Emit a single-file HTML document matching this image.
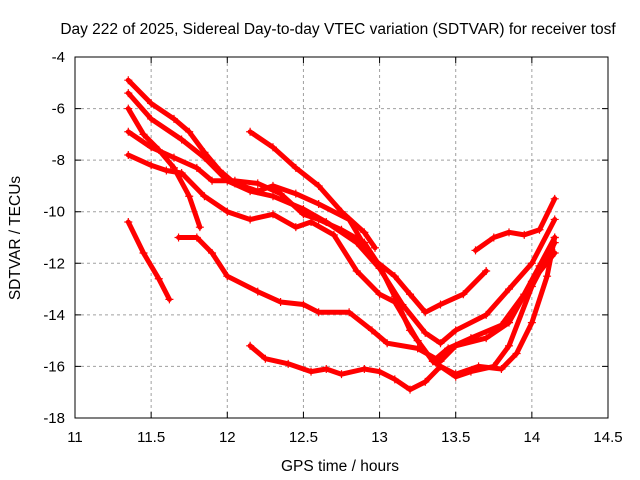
<!DOCTYPE html>
<html><head><meta charset="utf-8"><style>
body{margin:0;background:#fff}
svg{display:block;font-family:"Liberation Sans",sans-serif}
</style></head><body>
<svg id="chart" width="640" height="480">
<rect x="0" y="0" width="640" height="480" fill="#fff"/>
<text x="338" y="34" font-size="15.5" text-anchor="middle">Day 222 of 2025, Sidereal Day-to-day VTEC variation (SDTVAR) for receiver tosf</text>
<text x="340" y="471" font-size="15.5" text-anchor="middle">GPS time / hours</text>
<text x="20" y="238" font-size="15.5" text-anchor="middle" transform="rotate(-90 20 238)">SDTVAR / TECUs</text>
<g id="grid"></g><g id="ticks"></g><g id="series"></g>
<rect x="75" y="57" width="533" height="361" fill="none" stroke="#000"/>
</svg>
<script>
const xTicks=[11,11.5,12,12.5,13,13.5,14,14.5];
const xTickLabels=["11","11.5","12","12.5","13","13.5","14","14.5"];
const yTicks=[-4,-6,-8,-10,-12,-14,-16,-18];
const yTickLabels=["-4","-6","-8","-10","-12","-14","-16","-18"];
const s1=[[11.35,-4.9],[11.5,-5.8],[11.65,-6.4],[11.75,-6.9],[11.85,-7.7],[11.95,-8.4],[12.05,-8.9],[12.2,-9.2],[12.3,-9.0],[12.45,-9.3],[12.6,-9.7],[12.8,-10.3],[12.95,-11.8],[13.1,-12.5],[13.2,-13.2],[13.3,-13.9],[13.4,-13.6],[13.55,-13.2],[13.7,-12.3]];
const s2=[[11.35,-5.4],[11.5,-6.4],[11.7,-7.2],[11.85,-7.9],[12.0,-8.8],[12.15,-9.2],[12.3,-9.4],[12.5,-9.9],[12.65,-10.4],[12.85,-11.2],[13.0,-12.2],[13.15,-13.6],[13.3,-14.7],[13.4,-15.1],[13.5,-14.6],[13.7,-14.0],[13.85,-13.0],[14.0,-12.0],[14.15,-10.3]];
const s3=[[11.35,-6.0],[11.45,-7.0],[11.55,-7.6],[11.65,-8.3],[11.75,-9.4],[11.82,-10.6]];
const s4=[[11.35,-6.9],[11.5,-7.5],[11.65,-7.9],[11.8,-8.3],[11.9,-8.8],[12.05,-8.8],[12.2,-8.9],[12.35,-9.3],[12.5,-10.1],[12.6,-10.3],[12.75,-10.7],[12.9,-11.2],[13.0,-12.1],[13.1,-13.3],[13.2,-14.6],[13.35,-15.8],[13.45,-15.3],[13.6,-14.9],[13.8,-14.4],[13.95,-13.2],[14.05,-12.1],[14.15,-11.0]];
const s5=[[11.35,-7.8],[11.5,-8.2],[11.6,-8.4],[11.7,-8.5],[11.85,-9.4],[12.0,-10.0],[12.15,-10.3],[12.3,-10.1],[12.45,-10.6],[12.55,-10.4],[12.7,-10.9],[12.85,-12.3],[13.0,-13.2],[13.1,-13.5],[13.25,-15.0],[13.35,-15.8],[13.5,-16.4],[13.6,-16.2],[13.75,-16.0],[13.85,-15.2],[14.0,-12.9],[14.15,-11.2]];
const s6=[[11.35,-10.4],[11.45,-11.6],[11.55,-12.6],[11.62,-13.4]];
const s7=[[11.68,-11.0],[11.8,-11.0],[11.9,-11.6],[12.0,-12.5],[12.2,-13.1],[12.35,-13.5],[12.5,-13.6],[12.6,-13.9],[12.8,-13.9],[12.95,-14.6],[13.05,-15.1],[13.25,-15.3],[13.4,-15.8],[13.5,-15.2],[13.7,-14.9],[13.85,-14.3],[14.0,-12.7],[14.15,-11.6]];
const s8=[[12.15,-6.9],[12.3,-7.5],[12.45,-8.3],[12.6,-9.0],[12.75,-10.0],[12.9,-10.8],[12.97,-11.4]];
const s9=[[12.15,-15.2],[12.25,-15.7],[12.4,-15.9],[12.55,-16.2],[12.65,-16.1],[12.75,-16.3],[12.9,-16.1],[13.0,-16.2],[13.1,-16.5],[13.2,-16.9],[13.3,-16.6],[13.4,-16.0],[13.5,-16.3],[13.65,-16.0],[13.8,-16.1],[13.9,-15.5],[14.0,-14.3],[14.1,-12.5],[14.15,-11.0]];
const s10=[[13.63,-11.5],[13.75,-11.0],[13.85,-10.8],[13.95,-10.9],[14.05,-10.7],[14.15,-9.5]];
const allSeries=[s1,s2,s3,s4,s5,s6,s7,s8,s9,s10];

const NS="http://www.w3.org/2000/svg";
const X0=75,X1=608,Y0=57,Y1=418;
function xs(v){return X0+(v-11)/(14.5-11)*(X1-X0);}
function ys(v){return Y0+(-4-v)/14*(Y1-Y0);}
const grid=document.getElementById('grid'),ticks=document.getElementById('ticks'),ser=document.getElementById('series');
function mk(tag,attrs,parent){const e=document.createElementNS(NS,tag);for(const k in attrs)e.setAttribute(k,attrs[k]);parent.appendChild(e);return e;}
xTicks.forEach((t,i)=>{
  const x=xs(t);
  if(i>0&&i<xTicks.length-1){const g=mk('line',{x1:x,x2:x,y1:Y0,y2:Y1,stroke:'#a0a0a0','stroke-dasharray':'3,3'},grid);
  
  }
  const tk=mk('path',{d:`M${x},${Y1}v-6M${x},${Y0}v6`,stroke:'#000'},ticks);
  
  
  const l=mk('text',{x:x,y:Y1+24,'font-size':15,'text-anchor':'middle'},ticks);l.textContent=xTickLabels[i];
  
  
});
yTicks.forEach((t,i)=>{
  const y=ys(t);
  if(i>0&&i<yTicks.length-1){const g=mk('line',{x1:X0,x2:X1,y1:y,y2:y,stroke:'#a0a0a0','stroke-dasharray':'3,3'},grid);
  
  }
  const tk=mk('path',{d:`M${X0},${y}h6M${X1},${y}h-6`,stroke:'#000'},ticks);
  
  
  const l=mk('text',{x:X0-10,y:y+5,'font-size':15,'text-anchor':'end'},ticks);l.textContent=yTickLabels[i];
  
  
});
allSeries.forEach((s,i)=>{
  const d=s.map((p,j)=>(j?'L':'M')+xs(p[0]).toFixed(1)+','+ys(p[1]).toFixed(1)).join('');
  const p=mk('path',{d:d,fill:'none',stroke:'#f00','stroke-width':5,'stroke-linejoin':'round','stroke-linecap':'round'},ser);
  
  
  s.forEach(pt=>{
    const x=xs(pt[0]),y=ys(pt[1]);
    const m=mk('path',{d:`M${x-4},${y}h8M${x},${y-4}v8`,stroke:'#f00','stroke-width':1.2},ser);
    
    
  });
});
</script>
</body></html>
